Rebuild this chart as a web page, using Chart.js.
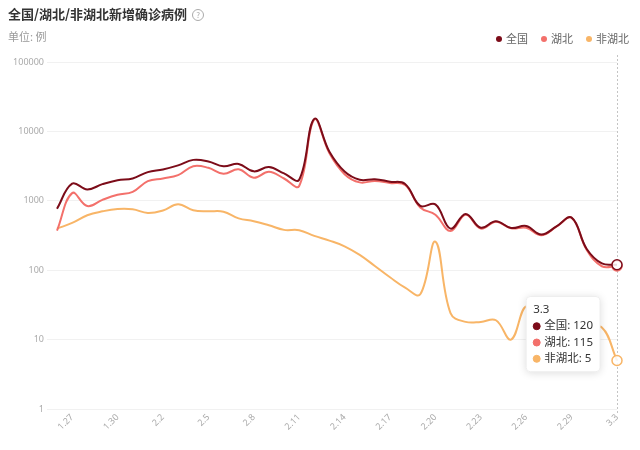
<!DOCTYPE html>
<html>
<head>
<meta charset="utf-8">
<script src="https://cdn.jsdelivr.net/npm/chart.js@4.4.1/dist/chart.umd.min.js"></script>
<style>
  html,body{margin:0;padding:0;background:#fff;}
  body{font-family:'Noto Sans CJK SC','Noto Sans',sans-serif;}
  #wrap{position:relative;width:640px;height:450px;overflow:hidden;}
  #title{position:absolute;left:8px;top:4px;font-size:13px;font-weight:bold;color:#333;line-height:20px;white-space:nowrap;}
  #title .q{display:inline-block;width:10px;height:10px;border:1px solid #aaa;border-radius:50%;font-size:8px;line-height:10px;text-align:center;color:#aaa;font-weight:normal;vertical-align:1px;margin-left:5px;}
  #unit{position:absolute;left:8px;top:28px;font-size:11px;color:#999;line-height:16px;}
  #legend{position:absolute;right:11px;top:30px;font-size:11px;color:#666;line-height:16px;white-space:nowrap;}
  #legend span.item{margin-left:13px;}
  #legend i{display:inline-block;width:6px;height:6px;border-radius:50%;margin-right:4px;vertical-align:1px;}
  canvas{position:absolute;left:0;top:0;}
</style>
</head>
<body>
<div id="wrap">
  <canvas id="c" width="640" height="450"></canvas>
  <div id="title">全国/湖北/非湖北新增确诊病例<span class="q">?</span></div>
  <div id="unit">单位: 例</div>
  <div id="legend"></div>
</div>
<script>
const dates = ['1.26','1.27','1.28','1.29','1.30','1.31',
  '2.1','2.2','2.3','2.4','2.5','2.6','2.7','2.8','2.9','2.10',
  '2.11','2.12','2.13','2.14','2.15','2.16','2.17','2.18','2.19','2.20',
  '2.21','2.22','2.23','2.24','2.25','2.26','2.27','2.28','2.29',
  '3.1','3.2','3.3'];
const national = [769,1771,1459,1737,1982,2102,
  2590,2829,3235,3887,3694,3143,3399,2656,3062,2478,
  2015,15152,5090,2641,2009,2048,1886,1749,845,889,
  397,648,409,508,406,433,327,427,573,
  202,125,120];
const hubei = [371,1291,840,1032,1220,1347,
  1921,2103,2345,3156,2987,2447,2841,2147,2618,2097,
  1638,14840,4823,2420,1843,1933,1807,1693,800,631,
  366,630,398,499,401,409,318,423,570,
  196,114,115];
const nonHubei = [398,480,619,705,762,755,
  669,726,890,731,707,696,558,509,444,381,
  377,312,267,221,166,115,79,56,45,258,
  24,18,18,19,10,30,14,8,10,
  12,15,5];
const yTicks = [1,10,100,1000,10000,100000];
const seriesNames = ['全国','湖北','非湖北'];
const seriesColors = ['#7c0c19','#f3706b','#f8b567'];

document.getElementById('legend').innerHTML = seriesNames.map((n,i)=>
  '<span class="item"><i style="background:'+seriesColors[i]+'"></i>'+n+'</span>').join('');

const FONT = "'Noto Sans','Noto Sans CJK SC',sans-serif";

function mkDs(label, data, color){
  return {
    label, data,
    borderColor: color,
    backgroundColor: color,
    borderWidth: 2,
    tension: 0.4,
    clip: false,
    pointRadius: 0,
    pointHoverRadius: 5,
    pointHoverBorderWidth: 1.5,
    pointHoverBorderColor: color,
    pointHoverBackgroundColor: 'rgba(255,255,255,0.85)',
    fill: false
  };
}

Chart.Tooltip.positioners.pointerY = function(elements, eventPosition){
  if(!elements.length) return false;
  return {x: elements[0].element.x, y: eventPosition.y};
};

const crosshair = {
  id:'crosshair',
  beforeDatasetsDraw(chart){
    const act = chart.tooltip.getActiveElements();
    if(!act.length) return;
    const x = act[0].element.x;
    const ctx = chart.ctx, a = chart.chartArea;
    ctx.save();
    ctx.strokeStyle = '#c4c4c4';
    ctx.lineWidth = 1;
    ctx.setLineDash([2,2]);
    ctx.beginPath();
    ctx.moveTo(Math.round(x)+0.5, a.top-7);
    ctx.lineTo(Math.round(x)+0.5, a.bottom+6);
    ctx.stroke();
    ctx.restore();
  }
};

const tipShadow = {
  id:'tipShadow',
  beforeTooltipDraw(chart, args){
    const t = args.tooltip;
    if(!t.opacity) return;
    const ctx = chart.ctx;
    ctx.save();
    ctx.shadowColor = 'rgba(0,0,0,0.15)';
    ctx.shadowBlur = 8;
    ctx.shadowOffsetY = 1;
    ctx.fillStyle = '#fff';
    ctx.beginPath();
    ctx.roundRect(t.x, t.y, t.width, t.height, 4);
    ctx.fill();
    ctx.restore();
  }
};

const chart = new Chart(document.getElementById('c'), {
  type:'line',
  data:{
    labels: dates,
    datasets:[
      mkDs(seriesNames[0], national, seriesColors[0]),
      mkDs(seriesNames[1], hubei, seriesColors[1]),
      mkDs(seriesNames[2], nonHubei, seriesColors[2])
    ]
  },
  options:{
    responsive:false,
    animation:false,
    layout:{padding:{left:0,right:23,top:62,bottom:0}},
    interaction:{mode:'index',intersect:false},
    events:[],
    plugins:{
      legend:{display:false},
      title:{display:false},
      tooltip:{
        enabled:true,
        position:'pointerY',
        xAlign:'right',
        yAlign:'center',
        caretSize:0,
        caretPadding:17,
        backgroundColor:'#fff',
        borderColor:'#eee',
        borderWidth:1,
        cornerRadius:4,
        titleColor:'#333',
        bodyColor:'#333',
        titleFont:{family:FONT,size:11.5,weight:'normal',lineHeight:1.2},
        bodyFont:{family:FONT,size:11.5,lineHeight:1.2},
        titleMarginBottom:3,
        bodySpacing:2.5,
        padding:{top:6,bottom:6,left:7,right:7},
        displayColors:true,
        usePointStyle:true,
        boxWidth:7,
        boxHeight:7,
        boxPadding:2,
        callbacks:{
          label:(c)=> c.dataset.label + ': ' + c.raw,
          labelColor:(c)=>({borderColor:seriesColors[c.datasetIndex], backgroundColor:seriesColors[c.datasetIndex]}),
          labelPointStyle:()=>({pointStyle:'circle',rotation:0})
        }
      }
    },
    scales:{
      x:{
        type:'category',
        offset:false,
        grid:{display:false,drawTicks:false},
        border:{display:false},
        ticks:{
          autoSkip:false,
          maxRotation:45,minRotation:45,
          padding:3,
          color:'#aaa',
          font:{family:FONT,size:9},
          callback:function(v,i){ return (i-1)%3===0 ? dates[i] : ''; }
        },
        afterFit:(s)=>{ s.height = 41; }
      },
      y:{
        type:'logarithmic',
        min:1,max:100000,
        grid:{color:'#f1f1f1',drawTicks:true,tickLength:10,tickColor:'#f1f1f1'},
        border:{display:false},
        afterBuildTicks:(s)=>{ s.ticks = yTicks.map(v=>({value:v})); },
        ticks:{
          color:'#aaa',
          padding:3,
          font:{family:FONT,size:9},
          callback:(v)=> String(v)
        },
        afterFit:(s)=>{ s.width = 57; }
      }
    }
  },
  plugins:[crosshair, tipShadow]
});

const last = dates.length-1;
const els = [0,1,2].map(d=>({datasetIndex:d,index:last}));
chart.setActiveElements(els);
chart.tooltip.setActiveElements(els, {x: chart.scales.x.getPixelForValue(last), y: chart.scales.y.getPixelForValue(12)});
chart.update();
</script>
</body>
</html>
